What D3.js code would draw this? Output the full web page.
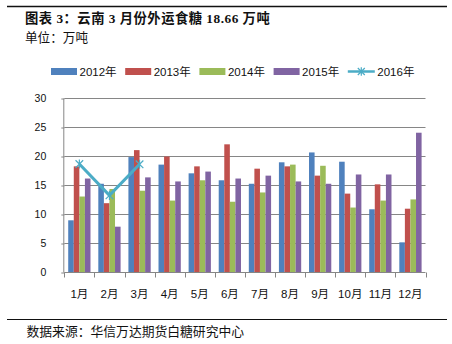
<!DOCTYPE html>
<html>
<head>
<meta charset="utf-8">
<script src="https://cdn.jsdelivr.net/npm/d3@7"></script>
<style>
  body { margin: 0; background: #fff; }
  svg { display: block; }
</style>
</head>
<body>
<script>
// Monthly sugar shipments out of Yunnan (10k tonnes)
const months = ["1月", "2月", "3月", "4月", "5月", "6月", "7月", "8月", "9月", "10月", "11月", "12月"];
const barYears = ["2012年", "2013年", "2014年", "2015年"];
const lineYear = "2016年";
const v2012 = [9.0, 15.3, 19.9, 18.6, 17.1, 15.9, 15.3, 19.0, 20.7, 19.1, 10.9, 5.2];
const v2013 = [18.3, 11.95, 21.1, 20.0, 18.3, 22.1, 17.9, 18.3, 16.7, 13.6, 15.2, 11.0];
const v2014 = [13.1, 14.4, 14.1, 12.4, 15.9, 12.2, 13.8, 18.6, 18.4, 11.2, 12.4, 12.6];
const v2015 = [16.2, 7.9, 16.4, 15.7, 17.4, 16.2, 16.7, 15.7, 15.3, 16.9, 16.9, 24.1];
const v2016 = [18.7, 13.3, 18.66];
const yTicks = [0, 5, 10, 15, 20, 25, 30];
const titleText = "图表 3：云南 3 月份外运食糖 18.66 万吨";
const unitText = "单位：万吨";
const sourceText = "数据来源：华信万达期货白糖研究中心";

const barColors = ["#4F81BD", "#C0504D", "#9BBB59", "#8064A2"];
const lineColor = "#4BACC6";
const gridColor = "#868686";
const cjk = "'Noto Sans CJK SC', sans-serif";
const latin = "'Liberation Sans', 'Noto Sans CJK SC', sans-serif";

const W = 452, H = 344;
const plot = { left: 64.3, right: 425.5, top: 98.5, bottom: 272.5 };

const svg = d3.select("body").append("svg")
  .attr("width", W).attr("height", H);

// header and footer rules
svg.append("line").attr("x1", 7).attr("x2", 447).attr("y1", 6.5).attr("y2", 6.5)
  .attr("stroke", "#111").attr("stroke-width", 1.4);
svg.append("line").attr("x1", 7).attr("x2", 447).attr("y1", 319.5).attr("y2", 319.5)
  .attr("stroke", "#111").attr("stroke-width", 1.2);

svg.append("text").attr("x", 25).attr("y", 22.5)
  .attr("font-family", "'Liberation Serif', 'Noto Sans CJK SC', serif")
  .attr("font-weight", "bold").attr("font-size", 13.3).attr("fill", "#111")
  .attr("letter-spacing", 0.5)
  .attr("xml:space", "preserve")
  .text(titleText);
svg.append("text").attr("x", 25).attr("y", 42)
  .attr("font-family", cjk).attr("font-size", 12.6).attr("fill", "#111")
  .text(unitText);
svg.append("text").attr("x", 26.5).attr("y", 336)
  .attr("font-family", cjk).attr("font-size", 12.8).attr("fill", "#111")
  .text(sourceText);

// scales
const x = d3.scaleBand().domain(months)
  .range([plot.left, plot.right]).paddingInner(0.26).paddingOuter(0.13);
const xs = d3.scaleBand().domain(barYears).range([0, x.bandwidth()]);
const y = d3.scaleLinear().domain([0, 30]).range([plot.bottom, plot.top]);

// gridlines
svg.append("g").selectAll("line").data(yTicks.filter(t => t > 0)).join("line")
  .attr("x1", plot.left).attr("x2", plot.right)
  .attr("y1", d => y(d)).attr("y2", d => y(d))
  .attr("stroke", gridColor).attr("stroke-width", 1);

// y axis
const yAxis = svg.append("g").attr("transform", `translate(${plot.left},0)`)
  .call(d3.axisLeft(y).tickValues(yTicks).tickSize(3).tickPadding(15));
yAxis.select(".domain").attr("stroke", gridColor).attr("d", `M-0.5,${plot.top}V${plot.bottom}`);
yAxis.selectAll(".tick line").attr("stroke", gridColor);
yAxis.selectAll(".tick text").attr("font-family", latin).attr("font-size", 10.5).attr("fill", "#111");

// bars
const series = [v2012, v2013, v2014, v2015];
const barGroup = svg.append("g");
series.forEach((vals, si) => {
  barGroup.append("g").selectAll("rect").data(vals).join("rect")
    .attr("x", (d, i) => x(months[i]) + xs(barYears[si]))
    .attr("width", xs.bandwidth())
    .attr("y", d => y(d))
    .attr("height", d => y(0) - y(d))
    .attr("fill", barColors[si]);
});

// x axis
const xAxis = svg.append("g").attr("transform", `translate(0,${plot.bottom})`)
  .call(d3.axisBottom(x).tickSize(0).tickPadding(17));
xAxis.select(".domain").attr("stroke", gridColor).attr("d", `M${plot.left},0H${plot.right}`);
xAxis.selectAll(".tick text").attr("font-family", latin).attr("font-size", 11.5).attr("fill", "#111");
const boundaries = months.map(m => x(m) - x.step() * x.paddingOuter()).concat([plot.right]);
xAxis.append("g").selectAll("line").data(boundaries).join("line")
  .attr("x1", d => Math.round(d) + 0.5).attr("x2", d => Math.round(d) + 0.5)
  .attr("y1", 0).attr("y2", 5)
  .attr("stroke", gridColor);

// 2016 line with star markers
const pts = v2016.map((d, i) => [x(months[i]) + x.bandwidth() / 2, y(d)]);
svg.append("path").datum(pts)
  .attr("d", d3.line())
  .attr("fill", "none").attr("stroke", lineColor).attr("stroke-width", 3)
  .attr("stroke-linejoin", "round");
function star(g, cx, cy, r) {
  const p = `M${cx - r},${cy - r}L${cx + r},${cy + r}M${cx - r},${cy + r}L${cx + r},${cy - r}M${cx},${cy - r * 1.2}L${cx},${cy + r * 1.2}`;
  g.append("path").attr("d", p).attr("stroke", lineColor).attr("stroke-width", 1.2).attr("fill", "none");
}
const markerG = svg.append("g");
pts.forEach(p => star(markerG, p[0], p[1], 3.8));

// legend
const legend = svg.append("g").attr("font-family", latin).attr("font-size", 11.5).attr("fill", "#111");
const legStep = 74.2, legX0 = 51, legY = 71.5;
barYears.forEach((name, i) => {
  const lx = legX0 + i * legStep;
  legend.append("rect").attr("x", lx).attr("y", legY - 3.5).attr("width", 26).attr("height", 7)
    .attr("fill", barColors[i]);
  legend.append("text").attr("x", lx + 28.5).attr("y", legY + 4.5).text(name);
});
{
  const lx = legX0 + 4 * legStep;
  legend.append("line").attr("x1", lx).attr("x2", lx + 27).attr("y1", legY).attr("y2", legY)
    .attr("stroke", lineColor).attr("stroke-width", 2.5);
  star(legend, lx + 13.5, legY, 3.5);
  legend.append("text").attr("x", lx + 29.5).attr("y", legY + 4.5).text(lineYear);
}
</script>
</body>
</html>
